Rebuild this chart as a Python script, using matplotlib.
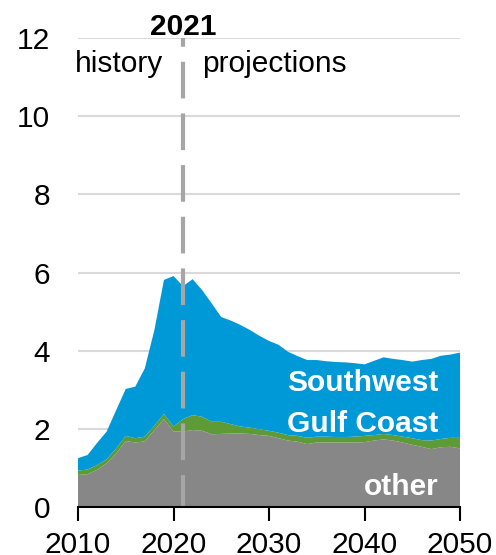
import matplotlib
matplotlib.use("Agg")
import matplotlib.pyplot as plt
import numpy as np

plt.rcParams['font.family'] = ['Liberation Sans', 'DejaVu Sans']

years = list(range(2010, 2051))
total = [1.25, 1.33, 1.64, 1.93, 2.48, 3.02, 3.08, 3.55, 4.53, 5.81, 5.91,
         5.65, 5.83, 5.55, 5.21, 4.86, 4.77, 4.66, 4.53, 4.38, 4.25,
         4.15, 3.97, 3.86, 3.76, 3.76, 3.73, 3.71, 3.70, 3.68, 3.65,
         3.74, 3.83, 3.79, 3.76, 3.72, 3.76, 3.79, 3.87, 3.90, 3.95]
gray_green_top = [0.93, 0.96, 1.07, 1.22, 1.50, 1.82, 1.76, 1.80, 2.08, 2.38, 2.06,
                  2.25, 2.35, 2.31, 2.18, 2.18, 2.12, 2.06, 2.03, 1.99, 1.95,
                  1.90, 1.84, 1.82, 1.77, 1.80, 1.80, 1.79, 1.79, 1.80, 1.82,
                  1.84, 1.87, 1.84, 1.80, 1.76, 1.71, 1.70, 1.74, 1.77, 1.77]
other = [0.82, 0.84, 0.95, 1.12, 1.37, 1.69, 1.65, 1.68, 1.97, 2.25, 1.93,
         1.93, 1.97, 1.95, 1.86, 1.87, 1.88, 1.88, 1.87, 1.84, 1.82,
         1.76, 1.70, 1.67, 1.61, 1.65, 1.65, 1.65, 1.65, 1.65, 1.66,
         1.70, 1.73, 1.70, 1.65, 1.59, 1.54, 1.48, 1.53, 1.54, 1.50]
gulf_coast = [g - o for g, o in zip(gray_green_top, other)]
southwest = [t - g for t, g in zip(total, gray_green_top)]

series_labels = ["other", "Gulf Coast", "Southwest"]
colors = ["#878787", "#5e9a36", "#0099d8"]
xticks = [2010, 2020, 2030, 2040, 2050]
yticks = [0, 2, 4, 6, 8, 10, 12]
divider_year = 2021

fig = plt.figure(figsize=(4.96, 5.55), dpi=100)
ax = fig.add_axes([78/496, 48/555, 382/496, 469/555])

ax.stackplot(years, other, gulf_coast, southwest, colors=colors, linewidth=0)

ax.set_xlim(2010, 2050)
ax.set_ylim(0, 12)
ax.set_yticks(yticks)
ax.set_xticks(xticks)
ax.grid(axis='y', color='#d9d9d9', linewidth=1.5)
ax.set_axisbelow(True)
for s in ['left', 'right', 'top']:
    ax.spines[s].set_visible(False)
ax.spines['bottom'].set_linewidth(1.5)
ax.spines['bottom'].set_zorder(5)
ax.tick_params(axis='y', length=0, labelsize=21.5, pad=20)
ax.tick_params(axis='x', length=10, width=1.5, labelsize=21.5, pad=7, direction='out')

ax.plot([divider_year, divider_year], [12, 0], color='#a6a6a6', linewidth=3,
        linestyle=(6.7, (8.8, 3.6)), zorder=4, clip_on=False)

ax.text(divider_year, 12.08, str(divider_year), ha='center', va='baseline',
        fontsize=21.5, fontweight='bold')
ax.text(2018.9, 11.13, "history", ha='right', va='baseline', fontsize=21.5)
ax.text(2023.0, 11.13, "projections", ha='left', va='baseline', fontsize=21.5)

ax.text(2047.73, 2.98, "Southwest", ha='right', va='baseline', fontsize=21.5,
        fontweight='bold', color='white')
ax.text(2047.73, 1.93, "Gulf Coast", ha='right', va='baseline', fontsize=21.5,
        fontweight='bold', color='white')
ax.text(2047.73, 0.31, "other", ha='right', va='baseline', fontsize=21.5,
        fontweight='bold', color='white')

fig.savefig("out.png", dpi=100)
